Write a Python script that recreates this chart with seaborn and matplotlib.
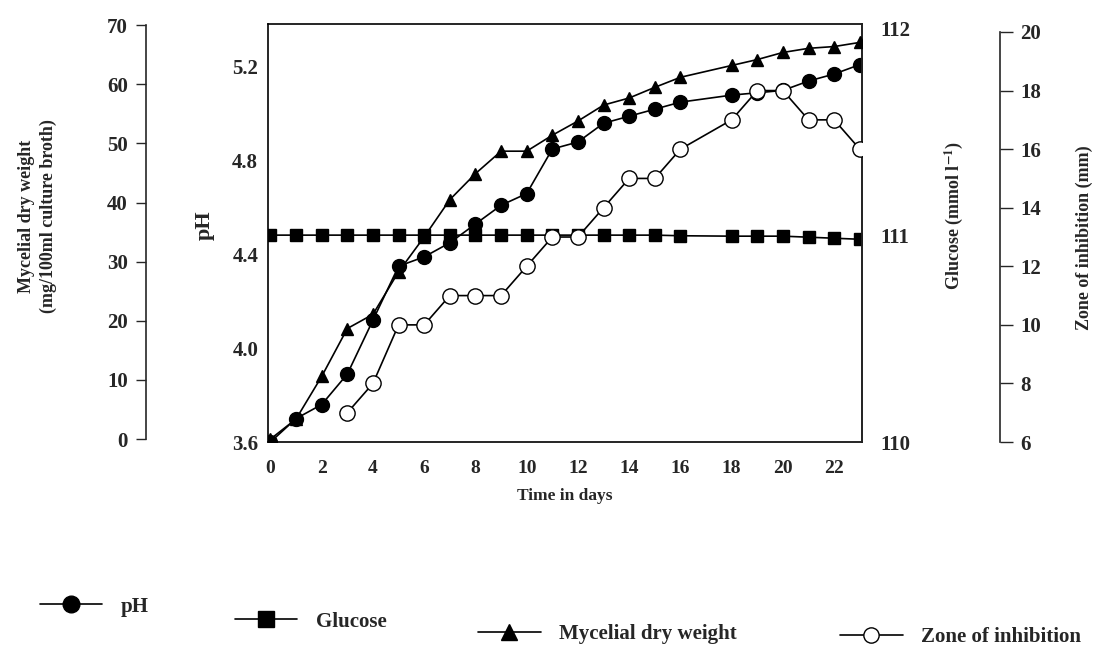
import matplotlib
matplotlib.use("Agg")
import matplotlib.pyplot as plt
from matplotlib.lines import Line2D
import seaborn as sns

# values
days = [0, 1, 2, 3, 4, 5, 6, 7, 8, 9, 10, 11, 12, 13, 14, 15, 16, 18, 19, 20, 21, 22, 23]
ph = [3.60, 3.70, 3.76, 3.89, 4.12, 4.35, 4.39, 4.45, 4.53, 4.61, 4.66, 4.85,
      4.88, 4.96, 4.99, 5.02, 5.05, 5.08, 5.09, 5.10, 5.14, 5.17, 5.21]
glucose = [111.0, 111.0, 111.0, 111.0, 111.0, 111.0, 111.0, 111.0, 111.0, 111.0,
           111.0, 111.0, 111.0, 111.0, 111.0, 111.0, 110.997, 110.995, 110.995,
           110.995, 110.99, 110.985, 110.98]
mycelial = [0, 3.4, 10.6, 18.7, 21.1, 28.3, 34.2, 40.5, 44.9, 48.7, 48.7, 51.4,
            53.8, 56.5, 57.7, 59.5, 61.2, 63.2, 64.2, 65.4, 66.1, 66.4, 67.1]
zone_days = [3, 4, 5, 6, 7, 8, 9, 10, 11, 12, 13, 14, 15, 16, 18, 19, 20, 21, 22, 23]
zone = [7, 8, 10, 10, 11, 11, 11, 12, 13, 13, 14, 15, 15, 16, 17, 18, 18, 17, 17, 16]

x_ticks = list(range(0, 23, 2))
ph_ticks = [3.6, 4.0, 4.4, 4.8, 5.2]
glucose_ticks = [110, 111, 112]
mycelial_ticks = list(range(0, 71, 10))
zone_ticks = list(range(6, 21, 2))

sns.set_style("white")
plt.rcParams["font.family"] = ["Liberation Serif", "DejaVu Serif"]
plt.rcParams["font.weight"] = "bold"
plt.rcParams["mathtext.fontset"] = "stix"

fig = plt.figure(figsize=(11.07, 6.51), dpi=100)
ax = fig.add_axes([0.242, 0.321, 0.537, 0.642])
ax_g = ax.twinx()
ax_m = ax.twinx()
ax_z = ax.twinx()

line_kw = dict(color="black", linewidth=1.2, markeredgecolor="black", markeredgewidth=1.0)

sns.lineplot(x=days, y=ph, ax=ax, marker="o", markersize=10, **line_kw)
sns.lineplot(x=days, y=glucose, ax=ax_g, marker="s", markersize=8, **line_kw)
sns.lineplot(x=days, y=mycelial, ax=ax_m, marker="^", markersize=9, **line_kw)
sns.lineplot(x=zone_days, y=zone, ax=ax_z, marker="o", markersize=11,
             markerfacecolor="white", **line_kw)

# main frame (pH left, days bottom)
ax.set_xlim(-0.1, 23.1)
ax.set_ylim(3.6, 5.383)
ax.set_xticks(x_ticks)
ax.set_yticks(ph_ticks)
ax.set_yticklabels([f"{t:.1f}" for t in ph_ticks])
ax.tick_params(axis="y", length=0, pad=7, labelsize=15)
ax.tick_params(axis="x", length=0, pad=13, labelsize=14)
for s in ax.spines.values():
    s.set_linewidth(1.2)
    s.set_color("black")
ax.set_ylabel("pH", fontsize=16, fontweight="bold")
ax.yaxis.set_label_coords(-0.089, 0.52)
ax.set_xlabel("Time in days", fontsize=12.5, fontweight="bold")
ax.xaxis.set_label_coords(0.5, -0.11)

# glucose on the right frame edge
ax_g.set_ylim(110, 112.02)
ax_g.set_yticks(glucose_ticks)
ax_g.tick_params(axis="y", length=0, pad=13, labelsize=15)
for k in ["left", "top", "bottom"]:
    ax_g.spines[k].set_visible(False)
ax_g.spines["right"].set_linewidth(1.2)
ax_g.set_ylabel("Glucose (mmol l$^{-1}$)", fontsize=13, fontweight="bold")
ax_g.yaxis.set_label_coords(1.135, 0.543)

# mycelial dry weight, detached axis on the far left
ax_m.set_ylim(-0.5, 70.2)
ax_m.set_yticks(mycelial_ticks)
ax_m.spines["left"].set_visible(True)
ax_m.spines["left"].set_position(("axes", -0.205))
ax_m.spines["left"].set_bounds(0, 70)
ax_m.spines["left"].set_linewidth(1.2)
for k in ["right", "top", "bottom"]:
    ax_m.spines[k].set_visible(False)
ax_m.yaxis.set_ticks_position("left")
ax_m.yaxis.set_label_position("left")
ax_m.tick_params(axis="y", direction="out", length=7, width=1, pad=6, labelsize=15)
ax_m.set_ylabel("Mycelial dry weight\n(mg/100ml culture broth)", fontsize=13,
                fontweight="bold", linespacing=1.35)
ax_m.yaxis.set_label_coords(-0.355, 0.54)

# zone of inhibition, detached axis on the far right
ax_z.set_ylim(6, 20.27)
ax_z.set_yticks(zone_ticks)
ax_z.spines["right"].set_position(("axes", 1.231))
ax_z.spines["right"].set_bounds(6, 20)
ax_z.spines["right"].set_linewidth(1.2)
for k in ["left", "top", "bottom"]:
    ax_z.spines[k].set_visible(False)
ax_z.tick_params(axis="y", direction="out", length=9, width=1, pad=6, labelsize=15)
ax_z.set_ylabel("Zone of inhibition (mm)", fontsize=13, fontweight="bold")
ax_z.yaxis.set_label_coords(1.359, 0.488)

for a in [ax, ax_g, ax_m, ax_z]:
    a.grid(False)
    a.set_facecolor("none")

# staggered legend entries below the chart
entries = [
    ("pH", dict(marker="o", markersize=12), (0.036, 0.068)),
    ("Glucose", dict(marker="s", markersize=12), (0.212, 0.045)),
    ("Mycelial dry weight", dict(marker="^", markersize=12), (0.432, 0.026)),
    ("Zone of inhibition", dict(marker="o", markersize=11, markerfacecolor="white"), (0.759, 0.021)),
]
for label, mk, pos in entries:
    h = Line2D([], [], color="black", linewidth=1.2, markeredgecolor="black", **mk)
    fig.legend(handles=[h], labels=[label], loc="center left", bbox_to_anchor=pos,
               frameon=False, numpoints=1, handlelength=3.0, handletextpad=0.9,
               borderpad=0, borderaxespad=0, prop={"size": 15, "weight": "bold"})

fig.savefig("out.png", dpi=100, facecolor="white")
